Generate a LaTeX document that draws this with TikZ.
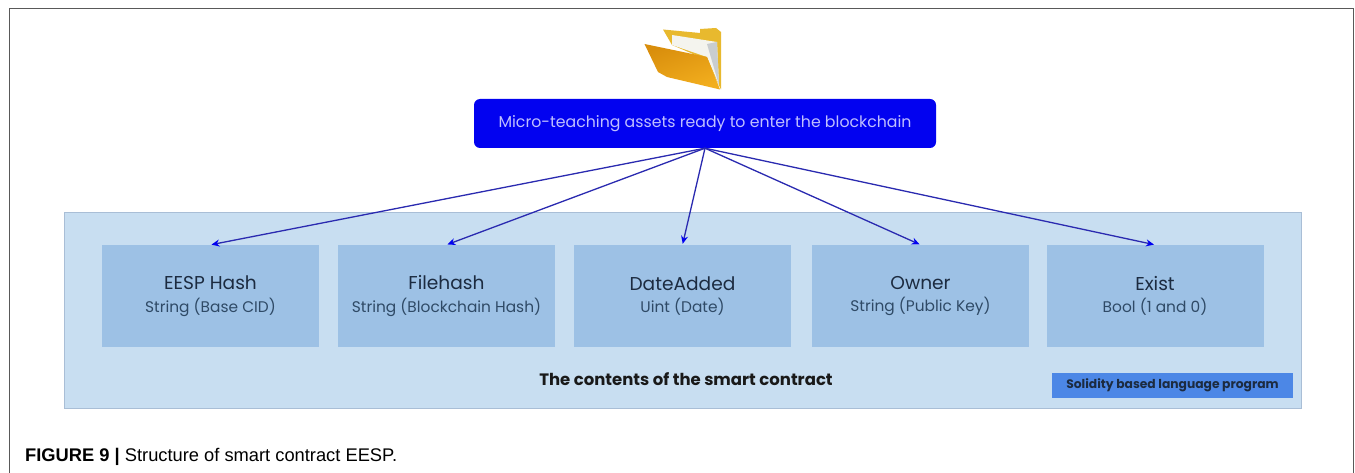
\documentclass[tikz,border=0pt]{standalone}
\usepackage{fontspec}
\setmainfont{Poppins}
\newfontfamily\capfont{Liberation Sans}
\usetikzlibrary{arrows.meta}
\definecolor{panelc}{HTML}{C8DEF1}
\definecolor{panele}{HTML}{A9BED6}
\definecolor{boxc}{HTML}{9DC1E5}
\definecolor{solc}{HTML}{4C87E6}
\definecolor{topc}{HTML}{0202F0}
\definecolor{arrc}{HTML}{2A2AB0}
\definecolor{inkc}{HTML}{1C2B40}
\definecolor{subc}{HTML}{2F4A66}
\definecolor{foldback}{HTML}{E8B92E}
\definecolor{foldpaper}{HTML}{F4F4EE}
\definecolor{foldshade}{HTML}{C9CDD0}
\definecolor{foldfronta}{HTML}{D98E0C}
\definecolor{foldfrontb}{HTML}{F2AE1E}
\tikzset{
  x=1pt,y=-1pt,
  panelbox/.style={draw=panele,line width=1pt,fill=panelc,minimum width=1237pt,minimum height=195pt,inner sep=0pt},
  fieldbox/.style={fill=boxc,minimum width=217pt,minimum height=102pt,inner sep=0pt,align=center},
  flow/.style={draw=arrc,line width=1.3pt,-{Stealth[length=8pt,width=7pt,color=topc]},shorten >=1pt},
}
\newcommand{\fieldtext}[2]{\fontsize{18.6}{24}\selectfont\color{inkc}#1\\[7pt]\fontsize{15.4}{24}\selectfont\color{subc}#2}
\begin{document}
\begin{tikzpicture}
\useasboundingbox (0,0) rectangle (1355,473);
\fill[white] (0,0) rectangle (1355,473);
% page frame
\coordinate (fbl) at (9,473);
\coordinate (ftl) at (9,9);
\coordinate (ftr) at (1353,9);
\coordinate (fbr) at (1353,473);
\draw[draw=black!65,line width=1pt] (fbl) -- (ftl) -- (ftr) -- (fbr);
% folder
\fill[foldback] (663,29.5) -- (700,33) -- (700,29) -- (716,28) -- (721,32) -- (721,89.5) -- (707,60) -- (672,45) -- cycle;
\fill[foldpaper] (672,35) -- (717,42) -- (719,85) -- (707,57) -- (672,45) -- cycle;
\fill[foldshade] (707,44) -- (717,42) -- (719,85) -- cycle;
\shade[left color=foldfronta,right color=foldfrontb,shading angle=20] (644.5,44) -- (707,57) -- (720,89.5) -- (667,77) -- (658,72) -- cycle;
% main nodes
\node[fill=topc,rounded corners=6pt,minimum width=462pt,minimum height=49pt,inner sep=0pt,text=blue!25!white,font=\fontsize{15.75}{18}\selectfont] (top) at (705,123.5) {Micro-teaching assets ready to enter the blockchain};
\node[panelbox] (panel) at (682.5,310.5) {};
\node[fieldbox] (b1) at (210.5,296) {\fieldtext{EESP Hash}{String (Base CID)}};
\node[fieldbox] (b2) at (446.5,296) {\fieldtext{Filehash}{String (Blockchain Hash)}};
\node[fieldbox] (b3) at (682.5,296) {\fieldtext{DateAdded}{Uint (Date)}};
\node[fieldbox] (b4) at (920.5,296) {\fieldtext{Owner}{String (Public Key)}};
\node[fieldbox] (b5) at (1155,296) {\fieldtext{Exist}{Bool (1 and 0)}};
\node[font=\fontsize{16.5}{19}\selectfont\bfseries,text=black!90] (title) at (686,379) {The contents of the smart contract};
\node[fill=solc,minimum width=241pt,minimum height=25pt,inner sep=0pt,font=\fontsize{12.3}{14}\selectfont\bfseries,text=inkc] (sol) at (1172.5,385.5) {Solidity based language program};
\node[anchor=west,inner sep=0pt,font=\capfont\fontsize{18.3}{21}\selectfont] (cap) at (25,457) {\textbf{FIGURE 9 |} Structure of smart contract EESP.};
% connectors
\foreach \t in {b1,b2,b3,b4,b5} \draw[flow] (top.south) -- (\t.north);
\end{tikzpicture}
\end{document}
